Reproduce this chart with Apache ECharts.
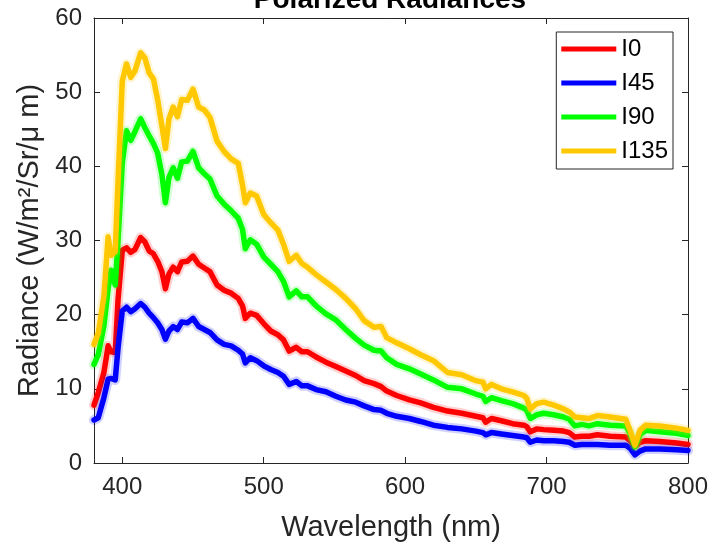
<!DOCTYPE html>
<html>
<head>
<meta charset="utf-8">
<script src="https://cdn.jsdelivr.net/npm/echarts@6/dist/echarts.min.js"></script>
<style>
  html, body { margin: 0; padding: 0; background: #fff; }
  #chart { width: 712px; height: 547px; }
</style>
</head>
<body>
<div id="chart"></div>
<script>
// Wavelength samples (nm) shared by all four polarization channels
const wavelengths = [
  380, 383, 387, 390, 392, 395, 397, 400, 403, 406, 409,
  413, 416, 419, 422, 425, 428, 430.5, 433, 436, 439, 442, 446, 450, 454, 458,
  462, 467, 472, 477, 482, 485, 487, 490.5, 495, 500, 505, 510, 514, 518, 523, 527, 531,
  537, 544, 551, 558, 565, 571, 578, 583, 587, 594, 603, 611, 620, 630, 640, 650, 655, 657, 661, 668,
  676, 684, 686, 688.5, 693, 698, 705, 712, 716, 720, 725, 730, 736, 745, 756, 759, 762.5, 766, 770, 780, 792, 800
];

// Radiance, W/m^2/Sr/um
const radI0 = [
  7.8, 9.5, 12.2, 15.8, 15.0, 14.9, 22.0, 28.7, 29.0, 28.4, 28.8,
  30.4, 29.8, 28.6, 28.2, 27.2, 25.8, 23.5, 25.5, 26.4, 25.8, 27.1, 27.2, 27.9, 26.8, 26.3,
  25.8, 24.0, 23.3, 22.9, 22.2, 21.2, 19.5, 20.2, 19.9, 18.8, 17.8, 17.3, 16.6, 15.1, 15.6, 15.0, 15.0,
  14.3, 13.6, 13.0, 12.4, 11.8, 11.1, 10.7, 10.3, 9.7, 9.1, 8.5, 8.1, 7.5, 7.0, 6.7, 6.3, 6.1, 5.5, 6.0, 5.7,
  5.3, 5.1, 4.9, 4.2, 4.6, 4.5, 4.4, 4.3, 4.1, 3.5, 3.6, 3.6, 3.8, 3.6, 3.5, 3.0, 2.2, 2.8, 3.0, 2.9, 2.7, 2.5
];
const radI45 = [
  5.8, 6.1, 8.8, 11.3, 11.4, 11.2, 15.5, 20.5, 21.0, 20.4, 20.8,
  21.5, 21.0, 20.2, 19.6, 18.9, 18.0, 16.7, 17.8, 18.4, 18.0, 19.0, 18.9, 19.5, 18.4, 18.0,
  17.6, 16.6, 16.0, 15.8, 15.2, 14.7, 13.5, 14.2, 13.8, 13.1, 12.6, 12.2, 11.7, 10.6, 11.0, 10.4, 10.4,
  9.9, 9.6, 9.0, 8.5, 8.2, 7.7, 7.2, 7.1, 6.7, 6.3, 6.0, 5.6, 5.1, 4.8, 4.6, 4.3, 4.1, 3.8, 4.1, 3.9,
  3.7, 3.5, 3.4, 2.8, 3.1, 3.0, 3.0, 2.9, 2.8, 2.4, 2.5, 2.5, 2.5, 2.4, 2.4, 2.0, 1.1, 1.6, 1.9, 1.9, 1.8, 1.7
];
const radI90 = [
  13.3, 14.6, 18.5, 23.5, 26.0, 24.0, 30.0, 40.5, 44.8, 43.5, 44.7,
  46.4, 45.2, 44.1, 43.1, 41.8, 38.9, 35.1, 38.5, 39.8, 38.4, 40.6, 40.7, 42.0, 39.8, 39.0,
  38.3, 36.0, 34.9, 34.0, 33.0, 31.5, 28.9, 30.1, 29.5, 27.8, 26.8, 25.8, 24.5, 22.4, 23.2, 22.4, 22.4,
  21.2, 20.1, 19.3, 18.0, 16.8, 15.9, 15.2, 15.1, 14.2, 13.3, 12.7, 12.0, 11.2, 10.2, 10.0, 9.3, 9.0, 8.3, 8.8, 8.4,
  8.0, 7.4, 7.1, 6.0, 6.5, 6.7, 6.5, 6.2, 5.9, 5.0, 5.2, 5.0, 5.3, 5.1, 5.0, 4.0, 2.2, 3.8, 4.4, 4.2, 4.0, 3.7
];
const radI135 = [
  16.0, 17.5, 22.5, 30.5, 28.0, 28.5, 38.0, 51.5, 53.8, 52.0, 52.9,
  55.3, 54.6, 52.6, 51.8, 49.0, 45.5, 42.4, 46.4, 48.0, 46.7, 49.0, 48.9, 50.4, 48.0, 47.6,
  46.6, 43.4, 42.0, 41.0, 40.4, 37.5, 35.1, 36.4, 36.0, 33.5, 32.4, 31.4, 29.5, 27.2, 28.0, 26.9, 26.4,
  25.4, 24.4, 23.4, 22.2, 20.8, 19.2, 18.3, 18.4, 16.9, 16.2, 15.4, 14.6, 13.8, 12.2, 11.9, 11.1, 10.9, 10.0, 10.6, 10.0,
  9.6, 9.1, 8.7, 7.3, 8.0, 8.2, 7.8, 7.3, 6.9, 6.2, 6.1, 6.0, 6.4, 6.2, 5.9, 4.4, 2.4, 4.4, 5.1, 5.0, 4.7, 4.4
];

const seriesNames = ['I0', 'I45', 'I90', 'I135'];
const seriesColors = ['#ff0000', '#0000ff', '#00ff00', '#ffc800'];
const xTickValues = [400, 500, 600, 700, 800];

const FONT = '"Liberation Sans", Arial, Helvetica, sans-serif';
const AXIS_COLOR = '#262626';

const channels = [radI0, radI45, radI90, radI135];
const series = [];
channels.forEach(function (vals, k) {
  const pts = wavelengths.map(function (w, i) { return [w, vals[i]]; });
  // faint spread band around each channel
  series.push({
    name: seriesNames[k] + ' band',
    type: 'line',
    data: pts,
    symbol: 'none',
    silent: true,
    lineStyle: { color: seriesColors[k], width: 10, opacity: 0.18, cap: 'round', join: 'round' },
    z: 2 + k * 2
  });
  series.push({
    name: seriesNames[k],
    type: 'line',
    data: pts,
    symbol: 'none',
    color: seriesColors[k],
    lineStyle: { color: seriesColors[k], width: 5.5, cap: 'round', join: 'round' },
    z: 3 + k * 2
  });
});

const chart = echarts.init(document.getElementById('chart'), null, { renderer: 'canvas' });
chart.setOption({
  animation: false,
  backgroundColor: '#ffffff',
  title: {
    text: 'Polarized Radiances',
    left: 385,
    top: -19,
    textAlign: 'center',
    textStyle: { fontFamily: FONT, fontSize: 28, fontWeight: 'bold', color: '#000' }
  },
  grid: { left: 94, right: 24, top: 18, bottom: 79, containLabel: false },
  legend: {
    data: seriesNames,
    orient: 'vertical',
    right: 39,
    top: 32,
    icon: 'rect',
    itemWidth: 55,
    itemHeight: 5,
    itemGap: 10,
    padding: [5, 5, 6, 5],
    borderColor: '#262626',
    borderWidth: 1,
    backgroundColor: '#ffffff',
    textStyle: { fontFamily: FONT, fontSize: 24, color: '#000' }
  },
  xAxis: [{
    type: 'value',
    min: 380,
    max: 800,
    name: 'Wavelength (nm)',
    nameLocation: 'middle',
    nameGap: 50,
    nameTextStyle: { fontFamily: FONT, fontSize: 29, color: AXIS_COLOR },
    axisLine: { lineStyle: { color: AXIS_COLOR, width: 1 } },
    axisTick: { inside: true, length: 6, customValues: xTickValues, lineStyle: { color: AXIS_COLOR } },
    axisLabel: { customValues: xTickValues, fontFamily: FONT, fontSize: 24, color: AXIS_COLOR, margin: 12 },
    splitLine: { show: false }
  }, {
    type: 'value',
    position: 'top',
    min: 380,
    max: 800,
    axisLine: { onZero: false, lineStyle: { color: AXIS_COLOR, width: 1 } },
    axisTick: { inside: true, length: 6, customValues: xTickValues, lineStyle: { color: AXIS_COLOR } },
    axisLabel: { show: false },
    splitLine: { show: false }
  }],
  yAxis: [{
    type: 'value',
    min: 0,
    max: 60,
    interval: 10,
    name: 'Radiance (W/m²/Sr/μ m)',
    nameLocation: 'middle',
    nameGap: 45,
    nameTextStyle: { fontFamily: FONT, fontSize: 29, color: AXIS_COLOR },
    axisLine: { show: true, lineStyle: { color: AXIS_COLOR, width: 1 } },
    axisTick: { show: true, inside: true, length: 6, lineStyle: { color: AXIS_COLOR } },
    axisLabel: { fontFamily: FONT, fontSize: 24, color: AXIS_COLOR, margin: 12 },
    splitLine: { show: false }
  }, {
    type: 'value',
    position: 'right',
    min: 0,
    max: 60,
    interval: 10,
    axisLine: { show: true, onZero: false, lineStyle: { color: AXIS_COLOR, width: 1 } },
    axisTick: { show: true, inside: true, length: 6, lineStyle: { color: AXIS_COLOR } },
    axisLabel: { show: false },
    splitLine: { show: false }
  }],
  series: series
});
</script>
</body>
</html>
